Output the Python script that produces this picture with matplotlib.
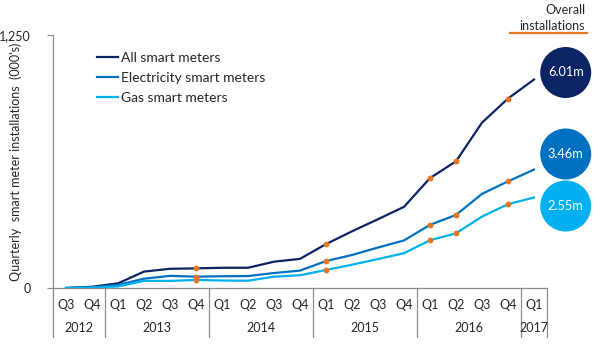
import matplotlib
matplotlib.use("Agg")
import matplotlib.pyplot as plt
import matplotlib.transforms as mtransforms
from matplotlib.patches import Ellipse
from matplotlib.lines import Line2D

plt.rcParams['font.family'] = ['Lato', 'DejaVu Sans']

quarters = ["Q3", "Q4", "Q1", "Q2", "Q3", "Q4", "Q1", "Q2", "Q3", "Q4",
            "Q1", "Q2", "Q3", "Q4", "Q1", "Q2", "Q3", "Q4", "Q1"]
years = ["2012", "2013", "2014", "2015", "2016", "2017"]
year_counts = [2, 4, 4, 4, 4, 1]

all_meters = [0, 6, 23, 81, 95, 97, 100, 100, 130, 144,
              217, 280, 340, 401, 543, 626, 817, 936, 1030]
elec_meters = [0, 3, 15, 46, 60, 56, 58, 59, 74, 86,
               133, 163, 200, 235, 312, 361, 465, 527, 585]
gas_meters = [0, 2, 8, 35, 35, 40, 37, 36, 56, 63,
              89, 115, 143, 172, 236, 270, 353, 414, 447]
highlight_idx = [5, 10, 14, 15, 17]

overall_labels = ["6.01m", "3.46m", "2.55m"]
series_names = ["All smart meters", "Electricity smart meters", "Gas smart meters"]

c_all = "#0B2463"
c_elec = "#0070C0"
c_gas = "#00B0F0"
c_orange = "#E8761E"
c_axis = "#8C8C8C"
c_text = "#262626"

W, H = 606, 352
fig = plt.figure(figsize=(W / 100, H / 100), dpi=100)
x0, x1, y0, y1 = 53, 547, 35, 288
ax = fig.add_axes([x0 / W, 1 - y1 / H, (x1 - x0) / W, (y1 - y0) / H])

xs = list(range(len(quarters)))
for vals, col, name in [(all_meters, c_all, series_names[0]),
                        (elec_meters, c_elec, series_names[1]),
                        (gas_meters, c_gas, series_names[2])]:
    ax.plot(xs, vals, color=col, lw=1.6, label=name, solid_joinstyle='round', zorder=3)
    ax.plot([xs[i] for i in highlight_idx], [vals[i] for i in highlight_idx],
            'o', color=c_orange, ms=4.2, mec='none', zorder=4)

ax.set_xlim(-0.5, len(quarters) - 0.5)
ax.set_ylim(0, 1250)
ax.set_yticks([0, 1250])
ax.set_yticklabels(["0", "1,250"], fontsize=9, color=c_text)
ax.tick_params(axis='y', length=4, color=c_axis, pad=12)
ax.set_xticks([])
for s in ['top', 'right']:
    ax.spines[s].set_visible(False)
for s in ['left', 'bottom']:
    ax.spines[s].set_color(c_axis)
    ax.spines[s].set_linewidth(0.9)

ax.set_ylabel("Quarterly  smart meter installations  (000's)", fontsize=9,
              color=c_text, labelpad=2)
ax.yaxis.set_label_coords(-0.062, 0.5)

# category axis labels
tr = mtransforms.blended_transform_factory(ax.transData, fig.transFigure)
for i, q in enumerate(quarters):
    ax.text(i, 1 - 305 / H, q, transform=tr, ha='center', va='center',
            fontsize=9, color=c_text, clip_on=False)
start = 0
bounds = [-0.5]
for yr, n in zip(years, year_counts):
    center = start + (n - 1) / 2
    ax.text(center, 1 - 328 / H, yr, transform=tr, ha='center', va='center',
            fontsize=9, color=c_text, clip_on=False)
    start += n
    bounds.append(start - 0.5)
for b in bounds:
    ax.add_line(Line2D([b, b], [1 - 288 / H, 1 - 337 / H], transform=tr,
                       color=c_axis, lw=0.9, clip_on=False))

ax.legend(loc='upper left', bbox_to_anchor=(97 / W, 1 - 52 / H),
          bbox_transform=fig.transFigure, frameon=False, fontsize=10,
          handlelength=1.5, handletextpad=0.25, labelspacing=0.58,
          borderaxespad=0, borderpad=0, labelcolor=c_text)

# overall installations header
fig.text(585 / W, 1 - 10 / H, "Overall", ha='right', va='center',
         fontsize=9, color=c_text)
fig.text(585 / W, 1 - 26 / H, "installations", ha='right', va='center',
         fontsize=9, color=c_text)
fig.add_artist(Line2D([510 / W, 587 / W], [1 - 33 / H, 1 - 33 / H],
                      color=c_orange, lw=1.6))

# circles
for cy, col, lab in [(72.5, c_all, overall_labels[0]),
                     (154, c_elec, overall_labels[1]),
                     (206, c_gas, overall_labels[2])]:
    fig.add_artist(Ellipse((565.7 / W, 1 - cy / H), 51 / W, 51 / H,
                           transform=fig.transFigure, color=col, lw=0))
    fig.text(565.7 / W, 1 - cy / H, lab, ha='center', va='center',
             fontsize=9.2, color='white')

fig.savefig("out.png", dpi=100)
